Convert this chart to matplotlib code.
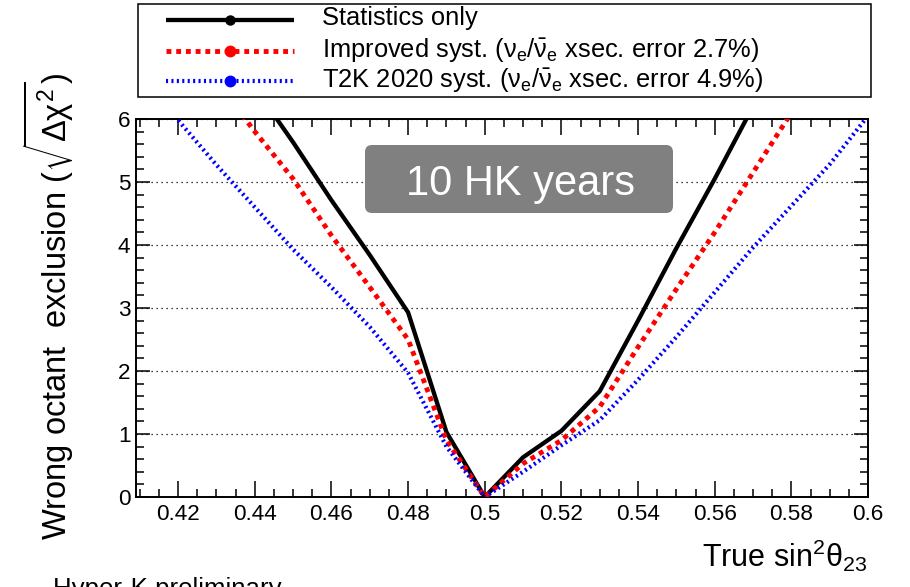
import matplotlib
matplotlib.use("Agg")
import matplotlib.pyplot as plt
from matplotlib.ticker import MultipleLocator, FixedLocator, FuncFormatter
from matplotlib.patches import FancyBboxPatch, Rectangle
from matplotlib.lines import Line2D

plt.rcParams['font.family'] = ['Liberation Sans', 'DejaVu Sans']
plt.rcParams['mathtext.fontset'] = 'custom'
plt.rcParams['mathtext.rm'] = 'Liberation Sans'
plt.rcParams['mathtext.it'] = 'Liberation Sans'
plt.rcParams['mathtext.bf'] = 'Liberation Sans:bold'
plt.rcParams['mathtext.sf'] = 'Liberation Sans'

# True sin^2(theta_23) scan points
sin2_theta23 = [0.41, 0.42, 0.43, 0.44, 0.45, 0.46, 0.47, 0.48, 0.49, 0.50,
                0.51, 0.52, 0.53, 0.54, 0.55, 0.56, 0.57, 0.58, 0.59, 0.60]

# sqrt(delta chi^2) for rejecting the wrong octant
stat_only = [10.1, 9.2, 8.3, 6.5, 5.63, 4.71, 3.84, 2.93, 1.03, 0.0,
             0.63, 1.05, 1.68, 2.8, 3.95, 5.05, 6.2, 7.3, 8.4, 9.5]
improved_syst = [8.2, 7.4, 6.6, 5.8, 5.05, 4.15, 3.33, 2.5, 0.9, 0.0,
                 0.53, 0.9, 1.43, 2.38, 3.3, 4.2, 5.15, 6.1, 7.0, 7.9]
t2k2020_syst = [6.7, 5.98, 5.27, 4.6, 3.93, 3.33, 2.7, 1.97, 0.8, 0.0,
                0.4, 0.82, 1.22, 1.86, 2.54, 3.25, 3.96, 4.62, 5.28, 6.05]

series_labels = [
    'Statistics only',
    r'Improved syst. ($\nu_{e}/\bar{\nu}_{e}$ xsec. error 2.7%)',
    r'T2K 2020 syst. ($\nu_{e}/\bar{\nu}_{e}$ xsec. error 4.9%)',
]
x_ticks = [0.42, 0.44, 0.46, 0.48, 0.50, 0.52, 0.54, 0.56, 0.58, 0.60]
y_ticks = [0, 1, 2, 3, 4, 5, 6]

W, H = 910, 587
fig = plt.figure(figsize=(W / 100, H / 100), dpi=100)
fig.patch.set_facecolor('white')


def fx(px):
    return px / W


def fy(py):
    return 1 - py / H


ax = fig.add_axes([fx(136), fy(497), (868 - 136) / W, (497 - 119) / H])

styles = [
    dict(color='black', lw=3.1, linestyle='-'),
    dict(color='#ff0000', lw=3.5, linestyle=(0, (1.0, 1.0))),
    dict(color='#0000ff', lw=3.0, linestyle=(0, (0.5, 0.8))),
]
marker_sizes = [6.5, 7.5, 7.5]

for vals, st in zip([stat_only, improved_syst, t2k2020_syst], styles):
    ax.plot(sin2_theta23, vals, solid_capstyle='butt', dash_capstyle='butt',
            zorder=3, **st)

ax.set_xlim(0.409, 0.6)
ax.set_ylim(0, 6)

ax.xaxis.set_major_locator(FixedLocator(x_ticks))
ax.xaxis.set_major_formatter(FuncFormatter(lambda v, p: f'{v:g}'))
ax.xaxis.set_minor_locator(MultipleLocator(0.005))
ax.yaxis.set_major_locator(FixedLocator(y_ticks))
ax.yaxis.set_minor_locator(MultipleLocator(0.2))

ax.tick_params(axis='both', which='both', direction='in', top=True,
               right=True, width=1.1, color='black')
ax.tick_params(axis='x', which='major', length=11.5, labelsize=16.2, pad=5)
ax.tick_params(axis='x', which='minor', length=5.8)
ax.tick_params(axis='y', which='major', length=10, labelsize=16.2, pad=4)
ax.tick_params(axis='y', which='minor', length=5.5)
for s in ax.spines.values():
    s.set_linewidth(1.4)

ax.yaxis.grid(True, which='major', linestyle=(0, (1, 3)), color='black',
              lw=0.9, zorder=1)
ax.set_axisbelow(True)

# "10 HK years" badge
badge = FancyBboxPatch((365 / 100, (H - 213) / 100), 308 / 100, 68 / 100,
                       boxstyle='round,pad=0,rounding_size=0.07',
                       transform=fig.dpi_scale_trans, facecolor='#808080',
                       edgecolor='none', zorder=4)
fig.add_artist(badge)
fig.text(fx(520), fy(195), '10 HK years', color='white', fontsize=30,
         ha='center', va='baseline', zorder=5)

# Legend
fig.add_artist(Rectangle((fx(138), fy(97)), (871 - 138) / W, (97 - 4) / H,
                         transform=fig.transFigure, facecolor='white',
                         edgecolor='black', lw=1.1))
row_y = [20, 51, 81]
text_base = [25, 56.5, 87]
for st, ms, label, ry, tb in zip(styles, marker_sizes, series_labels,
                                 row_y, text_base):
    fig.add_artist(Line2D([fx(166), fx(294)], [fy(ry), fy(ry)],
                          transform=fig.transFigure, dash_capstyle='butt',
                          solid_capstyle='butt', **st))
    fig.add_artist(Line2D([fx(230)], [fy(ry)], transform=fig.transFigure,
                          marker='o', markersize=ms, color=st['color'],
                          lw=0))
    fig.text(fx(322), fy(tb), label, fontsize=18.4, ha='left',
             va='baseline')

# Axis titles
fig.text(fx(67), fy(540), r'Wrong octant  exclusion ($\sqrt{\Delta\chi^{2}}$)',
         rotation=90, rotation_mode='anchor', ha='left', va='baseline',
         fontsize=23.5)
fig.text(fx(867), fy(567), r'True sin$^{2}\theta_{23}$', ha='right',
         va='baseline', fontsize=22)

fig.text(fx(53), fy(596), 'Hyper-K preliminary', fontsize=18.6,
         ha='left', va='baseline')

fig.savefig('out.png', dpi=100)
